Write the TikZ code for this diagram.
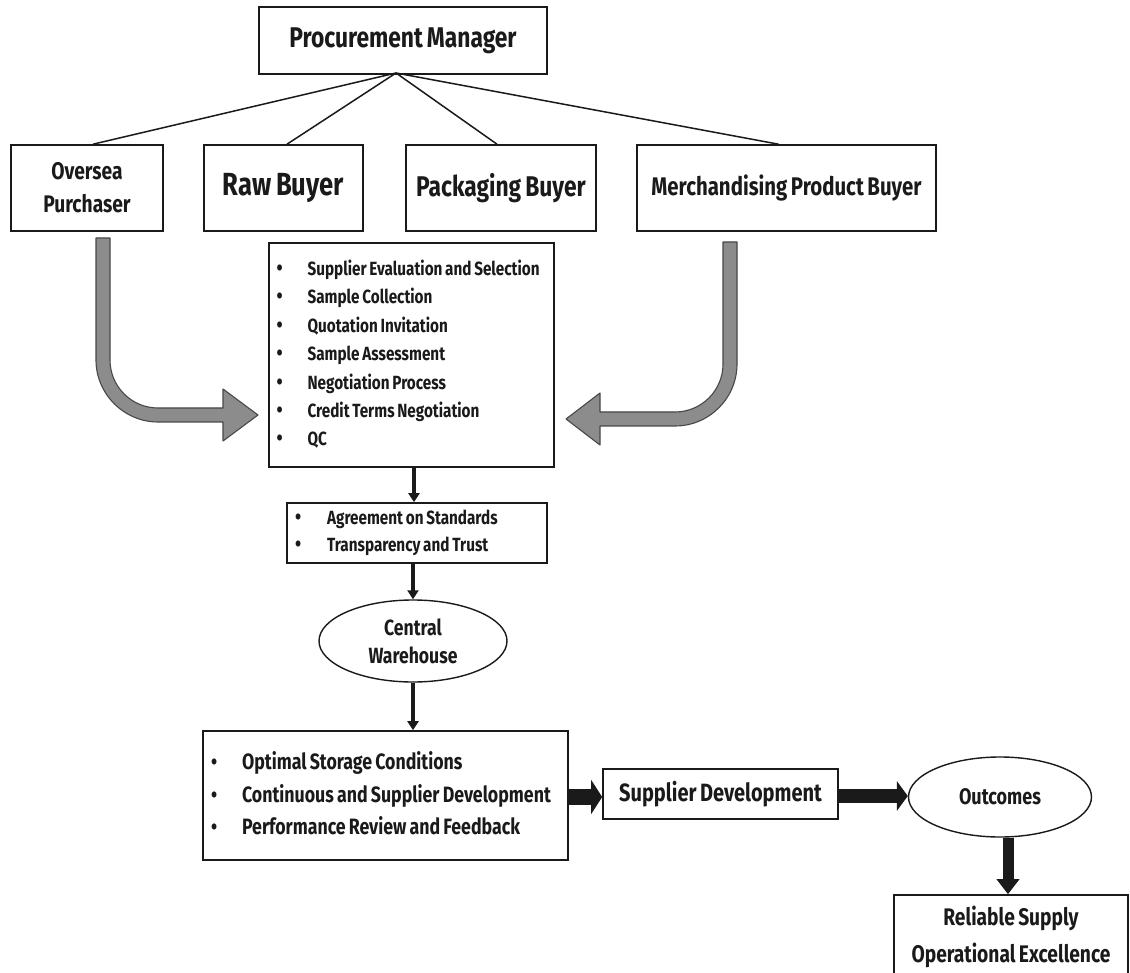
\documentclass[tikz,border=0pt]{standalone}
\usepackage{fontspec}
\setmainfont{Fira Sans}[FakeStretch=0.8, WordSpace=0.75]
\usetikzlibrary{arrows.meta,calc,shapes.geometric}
\definecolor{ink}{HTML}{1A1A1A}
\definecolor{fatgray}{HTML}{8C8C8C}
\definecolor{fatedge}{HTML}{484848}
\newcommand{\fs}[2]{\fontsize{#1}{#2}\selectfont}
\newcommand{\blt}{{\fs{22}{22}\textbullet}}
\tikzset{
  box/.style={draw=ink, line width=1.6pt, inner sep=0pt, text=ink, align=center},
  listbox/.style={box, align=left, execute at begin node={\spaceskip=0pt\xspaceskip=0pt}},
  oval/.style={ellipse, draw=ink, line width=1.4pt, inner sep=0pt, text=ink, align=center},
  link/.style={draw=ink, line width=1.5pt},
  thinarrow/.style={draw=ink, line width=3.5pt, -{Triangle[width=11pt,length=9pt]}},
  fatarrow/.style={draw=ink, line width=#1, -{Triangle[width=2.1*#1,length=11pt]}},
  curvearrow/.style={fill=fatgray, draw=fatedge, line width=1.1pt, line join=round}
}
\begin{document}
\begin{tikzpicture}[x=1pt,y=-1pt]
\useasboundingbox (0,0) rectangle (1130,973);
\fill[white] (0,0) rectangle (1130,973);

% top level
\node[box, minimum width=288pt, minimum height=67pt, font=\bfseries\fs{28.5}{32}] (pm) at (403,40.5) {Procurement Manager};

% buyers
\node[box, minimum width=152pt, minimum height=86pt, font=\bfseries\fs{24}{33}] (ov) at (87,188) {Oversea\\Purchaser};
\node[box, minimum width=159pt, minimum height=86pt, font=\bfseries\fs{32}{34}] (raw) at (283.5,188) {Raw Buyer};
\node[box, minimum width=190pt, minimum height=86pt, font=\bfseries\fs{28.5}{32}] (pack) at (501,188) {Packaging Buyer};
\node[box, minimum width=299pt, minimum height=86pt, font=\bfseries\fs{25.5}{28}] (merch) at (786.5,188) {Merchandising Product Buyer};

\coordinate (apex) at (396,73);
\draw[link] (apex) -- ($(ov.north)+(6,0)$);
\draw[link] (apex) -- ($(raw.north)+(3.5,0)$);
\draw[link] (apex) -- ($(pack.north)+(-4,0)$);
\draw[link] (apex) -- ($(merch.north)+(-8,0)$);

% sourcing activities
\node[listbox, minimum width=285pt, minimum height=224pt, text width=270pt, inner xsep=7.5pt, font=\bfseries\fs{19.1}{28.4}] (act) at (411.5,355) {%
  \begin{tabular}{@{}l@{\hspace{25pt}}l@{}}
  \blt & Supplier Evaluation and Selection\\
  \blt & Sample Collection\\
  \blt & Quotation Invitation\\
  \blt & Sample Assessment\\
  \blt & Negotiation Process\\
  \blt & Credit Terms Negotiation\\
  \blt & QC
  \end{tabular}};

% curved feed arrows into the activity box
\draw[curvearrow] (96,238) -- (96,360) .. controls (96,394) and (124,422) .. (158,422)
  -- (223,422) -- (223,441) -- (258,415) -- (223,389) -- (223,408) -- (158,408)
  .. controls (131.5,408) and (110,386.5) .. (110,360) -- (110,238) -- cycle;
\draw[curvearrow] (737,242) -- (737,364) .. controls (737,398.2) and (709.2,426) .. (675,426)
  -- (600,426) -- (600,445) -- (566,419) -- (600,393) -- (600,412) -- (675,412)
  .. controls (701.5,412) and (723,390.5) .. (723,364) -- (723,242) -- cycle;

% agreement
\node[listbox, minimum width=260pt, minimum height=60pt, text width=244pt, inner xsep=8pt, font=\bfseries\fs{19.1}{27}] (agr) at (417,533) {%
  \begin{tabular}{@{}l@{\hspace{26pt}}l@{}}
  \blt & Agreement on Standards\\
  \blt & Transparency and Trust
  \end{tabular}};

% warehouse
\node[oval, minimum width=188pt, minimum height=82pt, font=\bfseries\fs{22}{28}] (cw) at (413,641) {Central\\Warehouse};

% storage
\node[listbox, minimum width=365pt, minimum height=129pt, text width=349pt, inner xsep=8pt, font=\bfseries\fs{22.2}{32.5}] (st) at (385.5,795.5) {%
  \begin{tabular}{@{}l@{\hspace{25pt}}l@{}}
  \blt & Optimal Storage Conditions\\
  \blt & Continuous and Supplier Development\\
  \blt & Performance Review and Feedback
  \end{tabular}};

\node[box, minimum width=235pt, minimum height=50pt, font=\bfseries\fs{25}{28}] (sd) at (720.5,794) {Supplier Development};
\node[oval, minimum width=183pt, minimum height=80pt, font=\bfseries\fs{22.5}{26}] (out) at (1000,797) {Outcomes};
\node[box, minimum width=234pt, minimum height=84pt, font=\bfseries\fs{24}{37}] (rel) at (1011,937) {Reliable Supply\\Operational Excellence};

% connectors
\draw[thinarrow] (act.south -| 414,0) -- (agr.north -| 414,0);
\draw[thinarrow] (agr.south -| 413,0) -- (cw.north);
\draw[thinarrow] (cw.south) -- (st.north -| cw.south);
\draw[fatarrow=16pt] (st.east |- 0,797) -- (sd.west |- 0,797);
\draw[fatarrow=14pt] (sd.east |- 0,796) -- (out.west |- 0,796);
\draw[draw=ink, line width=11pt, -{Triangle[width=22pt,length=15pt]}] (out.south -| 1008,0) -- (rel.north -| 1008,0);
\end{tikzpicture}
\end{document}
